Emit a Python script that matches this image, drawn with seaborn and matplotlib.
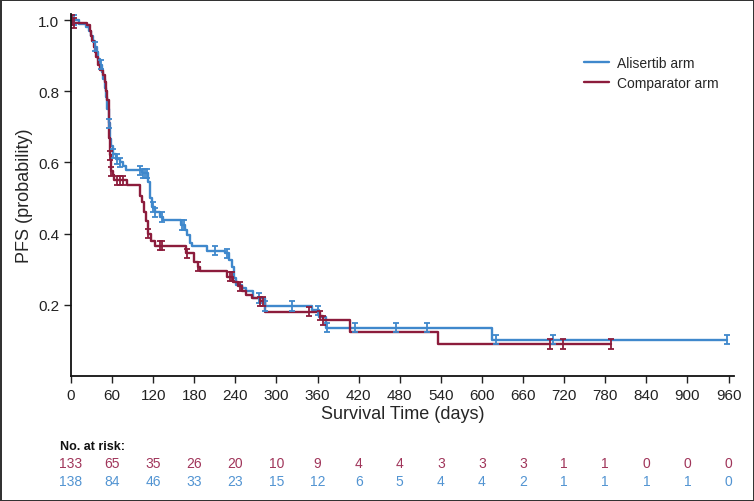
import numpy as np
import pandas as pd
import matplotlib.pyplot as plt
import matplotlib.transforms as mtransforms
import seaborn as sns

# step points (day, survival after the step)
ali_t = [0, 12, 22, 26, 29, 32, 35, 38, 40, 42, 45, 47, 49, 51, 53, 55, 57, 59, 62, 66,
         71, 76, 80, 104, 113, 115, 118, 123, 130, 134, 160, 166, 169, 173, 176, 198,
         225, 231, 235, 238, 241, 250, 256, 265, 283, 352, 362, 372, 614, 958]
ali_s = [1.0, 0.99, 0.98, 0.97, 0.955, 0.94, 0.925, 0.91, 0.89, 0.875, 0.855, 0.835,
         0.81, 0.785, 0.75, 0.71, 0.665, 0.645, 0.625, 0.61, 0.60, 0.59, 0.578, 0.569,
         0.545, 0.50, 0.475, 0.46, 0.447, 0.438, 0.424, 0.41, 0.396, 0.375, 0.365, 0.352,
         0.345, 0.325, 0.307, 0.275, 0.256, 0.247, 0.238, 0.219, 0.197, 0.185, 0.165,
         0.136, 0.102, 0.102]
ali_cens = [5, 35, 44, 56, 62, 67, 72, 100, 105, 108, 111, 119, 123, 133, 162, 165, 210,
            228, 274, 283, 322, 360, 374, 414, 474, 520, 620, 704, 958]

com_t = [0, 3, 24, 27, 29, 31, 33, 35, 37, 40, 42, 46, 49, 51, 53, 55, 56, 57, 58, 59,
         61, 63, 81, 101, 104, 107, 109, 112, 117, 122, 168, 180, 185, 189, 228, 236,
         244, 250, 256, 264, 276, 283, 363, 368, 408, 536, 788]
com_s = [1.0, 0.992, 0.985, 0.97, 0.955, 0.94, 0.925, 0.91, 0.895, 0.875, 0.86, 0.845,
         0.825, 0.80, 0.775, 0.73, 0.67, 0.62, 0.59, 0.575, 0.565, 0.55, 0.537, 0.505,
         0.49, 0.46, 0.435, 0.40, 0.378, 0.366, 0.345, 0.321, 0.307, 0.295, 0.279, 0.265,
         0.252, 0.238, 0.228, 0.219, 0.21, 0.181, 0.17, 0.157, 0.124, 0.09, 0.09]
com_cens = [2, 5, 57, 59, 67, 72, 76, 112, 130, 133, 170, 185, 232, 235, 246, 276, 280,
            348, 364, 368, 700, 718, 788]

risk_days = list(range(0, 961, 60))
risk_com = [133, 65, 35, 26, 20, 10, 9, 4, 4, 3, 3, 3, 1, 1, 0, 0, 0]
risk_ali = [138, 84, 46, 33, 23, 15, 12, 6, 5, 4, 4, 2, 1, 1, 1, 1, 0]

blue = '#3f88cc'
red = '#8c1c3c'
blue_txt = '#5294d2'
red_txt = '#a0355a'

sns.set_style('ticks')
plt.rcParams['font.family'] = ['Liberation Sans', 'DejaVu Sans']

fig = plt.figure(figsize=(7.54, 5.02), dpi=100)
fig.patch.set_edgecolor('#333333')
fig.patch.set_linewidth(2)
ax = fig.add_axes([0.0942, 0.249, 0.8793, 0.721])

df = pd.concat([
    pd.DataFrame({'day': ali_t, 'surv': ali_s, 'arm': 'Alisertib arm'}),
    pd.DataFrame({'day': com_t, 'surv': com_s, 'arm': 'Comparator arm'}),
])
sns.lineplot(data=df, x='day', y='surv', hue='arm', estimator=None,
             palette={'Alisertib arm': blue, 'Comparator arm': red},
             drawstyle='steps-post', linewidth=1.7, ax=ax)


def surv_at(times, survs, c):
    idx = np.searchsorted(times, c, side='right') - 1
    return survs[max(idx, 0)]


for cens, t, s, col in [(ali_cens, ali_t, ali_s, blue), (com_cens, com_t, com_s, red)]:
    ys = [surv_at(t, s, c) for c in cens]
    ax.errorbar(cens, ys, yerr=0.013, fmt='none', ecolor=col, elinewidth=1.3,
                capsize=2.5, capthick=1.3)

ax.set_xlim(0, 968)
ax.set_ylim(0, 1.017)
ax.set_xticks(risk_days)
ax.set_yticks([0.2, 0.4, 0.6, 0.8, 1.0])
ax.set_yticklabels(['0.2', '0.4', '0.6', '0.8', '1.0'])
ax.tick_params(axis='both', labelsize=11, length=5, width=1, colors='#222222')
for sp in ['left', 'bottom']:
    ax.spines[sp].set_linewidth(1.3)
    ax.spines[sp].set_color('#111111')
sns.despine(ax=ax)
ax.set_xlabel('Survival Time (days)', fontsize=13, labelpad=2)
ax.set_ylabel('PFS (probability)', fontsize=13, labelpad=4)

ax.legend(loc='upper left', bbox_to_anchor=(0.755, 0.92), frameon=False,
          fontsize=10, handlelength=1.8, handletextpad=0.6, labelspacing=0.45)

# risk table
trans = mtransforms.blended_transform_factory(ax.transData, fig.transFigure)
fig.text(0.079, 0.110, 'No. at risk:', fontsize=9, fontweight='bold', va='center',
         ha='left', color='#111111')
for d, rc, ra in zip(risk_days, risk_com, risk_ali):
    ax.text(d, 0.076, str(rc), transform=trans, ha='center', va='center',
            fontsize=10, color=red_txt)
    ax.text(d, 0.040, str(ra), transform=trans, ha='center', va='center',
            fontsize=10, color=blue_txt)

fig.savefig('out.png', dpi=100)
